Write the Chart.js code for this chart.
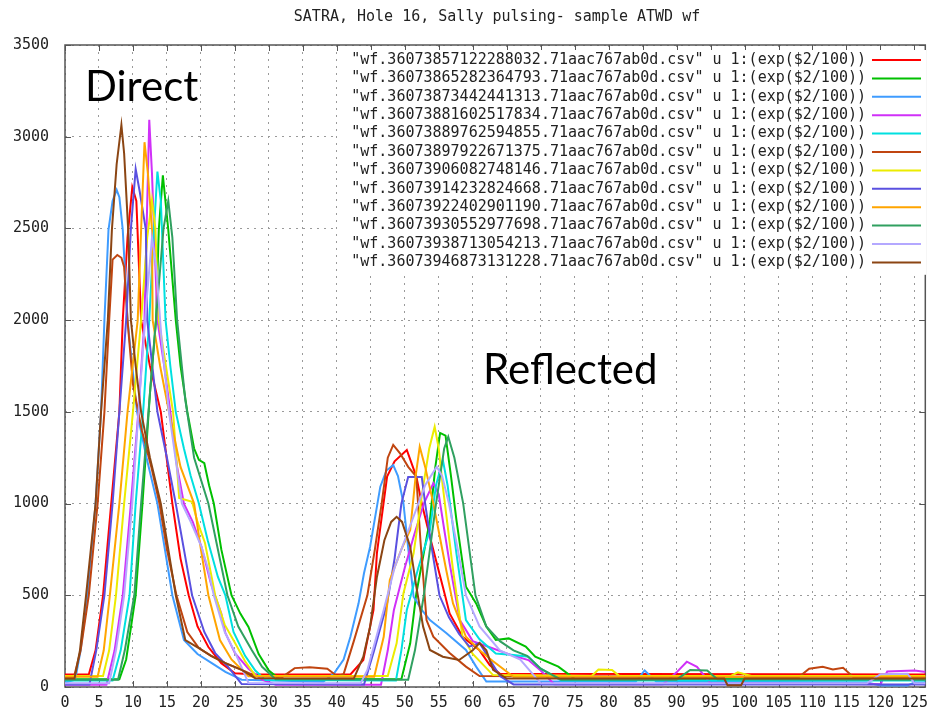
<!DOCTYPE html>
<html>
<head>
<meta charset="utf-8">
<title>SATRA, Hole 16, Sally pulsing- sample ATWD wf</title>
<script src="https://cdn.jsdelivr.net/npm/chart.js@4.4.1/dist/chart.umd.min.js"></script>
<style>
  html, body { margin: 0; padding: 0; background: #fff; }
  canvas { display: block; }
</style>
</head>
<body>
<canvas id="wfChart" width="935" height="715"></canvas>
<script>
// Tick values
const xTicks = [0, 5, 10, 15, 20, 25, 30, 35, 40, 45, 50, 55, 60, 65, 70, 75, 80, 85, 90, 95, 100, 105, 110, 115, 120, 125];
const yTicks = [0, 500, 1000, 1500, 2000, 2500, 3000, 3500];

// File ids used in the key
const fileIds = [
  '36073857122288032', '36073865282364793', '36073873442441313', '36073881602517834',
  '36073889762594855', '36073897922671375', '36073906082748146', '36073914232824668',
  '36073922402901190', '36073930552977698', '36073938713054213', '36073946873131228'
];

const seriesColors = ['#ff0000', '#00c000', '#3f9cff', '#d030f8', '#00e0e0', '#c04510',
  '#ecec00', '#5a50e0', '#ffa500', '#30a060', '#b4a8ff', '#8b4513'];

// Waveforms [sample, exp($2/100)]
const wf1 = [[0,68],[3.5,68],[4.5,200],[5.6,500],[6.8,1000],[8,1500],[8.5,2000],[9.2,2450],[9.9,2725],[10.5,2650],[11.2,2000],[12.5,1750],[14.1,1500],[15.8,1000],[17,700],[18.2,500],[19.5,330],[21.1,218],[23,130],[25,75],[28,68],[42,68],[43.9,147],[45.4,420],[45.9,730],[47.4,1147],[48.5,1230],[50.3,1292],[51.7,1147],[52.5,1000],[53.7,819],[55.6,547],[56.6,401],[58.5,274],[61,200],[62.5,120],[64,72],[127,68]];
const wf2 = [[0,42],[8,42],[9,150],[10.4,500],[11.4,1000],[12.5,1600],[13.4,2000],[13.8,2492],[14.4,2790],[15.2,2492],[16.3,2000],[17,1750],[18,1500],[19,1300],[19.7,1238],[20.5,1220],[21.2,1100],[21.9,1000],[23,750],[24.5,500],[25.8,400],[27,327],[28.5,180],[30,90],[31.5,45],[49.5,42],[50.8,238],[51.7,510],[53.7,911],[54.5,1200],[55.2,1385],[56,1370],[56.8,1150],[57.6,911],[59,547],[60.5,456],[62,330],[63.4,256],[65.3,265],[67.8,220],[69.2,165],[72.6,111],[75,45],[127,42]];
const wf3 = [[0,25],[1.5,40],[2.3,200],[3.3,500],[4.5,1000],[5.3,1500],[5.8,2000],[6.4,2492],[7,2650],[7.6,2710],[8,2670],[8.5,2492],[9.2,2000],[9.9,1750],[10.6,1500],[12,1250],[13.6,1000],[14.7,750],[15.8,500],[17.5,256],[19.5,180],[21.6,130],[23.6,82],[26,40],[38,28],[39.6,75],[41,150],[42,274],[43.2,456],[44,620],[44.9,765],[46.4,1092],[47.3,1180],[48.3,1210],[49,1150],[49.8,1002],[50.5,760],[51.3,492],[52.5,420],[53.7,365],[56.1,294],[59,202],[60.5,111],[62,30],[84,30],[85.3,90],[87,30],[118,25],[120,8],[124,8],[125,25],[127,25]];
const wf4 = [[0,12],[6.1,12],[7.3,200],[8.5,500],[9.7,1000],[10.8,1500],[11.7,2000],[12,2492],[12.4,3092],[12.8,2800],[13.1,2492],[13.6,2000],[14.6,1750],[15.5,1500],[16.5,1200],[17.5,1000],[18.8,900],[20.1,763],[21.5,560],[23,400],[23.6,295],[25,185],[27,100],[29,40],[31,12],[46.5,12],[47.5,200],[48.4,420],[50,650],[51.3,819],[52.8,1000],[54.2,1110],[55,1050],[55.8,860],[56.6,674],[58.1,365],[60,250],[63,210],[66,170],[68.2,147],[70,90],[72,15],[88,15],[90,80],[91.5,138],[93,110],[95,20],[120,15],[121,85],[125,90],[127,80]];
const wf5 = [[0,36],[7,36],[8.2,200],[9.5,500],[10.4,1000],[11.5,1500],[12.4,2000],[13.1,2500],[13.6,2810],[14.1,2650],[14.8,2000],[15.5,1750],[16.3,1500],[17.5,1300],[18.5,1150],[19.7,1000],[21,800],[22.5,600],[23.6,500],[24.8,300],[26.5,170],[28,90],[29.5,38],[48.7,36],[49.5,200],[50.3,420],[52,650],[53.7,856],[54.6,1100],[55.6,1238],[56.3,1100],[57.6,729],[59,365],[61,260],[63.4,183],[66,175],[68.2,165],[70,100],[73,36],[127,36]];
const wf6 = [[0,52],[1.3,52],[2.3,200],[3.5,500],[4.8,1000],[5.8,1500],[6.5,2000],[7,2330],[7.7,2355],[8.3,2340],[8.7,2290],[9.2,2000],[10,1650],[11.3,1400],[12.7,1200],[13.9,1000],[15,750],[16.4,500],[18,300],[19.7,212],[21.5,170],[23.6,130],[26,93],[28,60],[32,55],[33.8,103],[36,108],[38.6,100],[40,60],[41,70],[42.5,250],[44.5,500],[45.6,750],[46.6,1000],[47.5,1250],[48.3,1320],[49.3,1274],[50.5,1200],[51.7,1147],[52.3,800],[53.2,365],[54.2,274],[56.6,185],[59,111],[61,60],[108,55],[109.5,100],[111.5,110],[113,95],[114.5,105],[116,55],[127,52]];
const wf7 = [[0,60],[5.6,60],[6.5,200],[7.5,500],[8.7,1000],[10,1500],[11.2,2000],[12.1,2450],[12.8,2655],[13.3,2500],[13.8,2000],[15.9,1500],[16.8,1030],[18.7,1010],[19.5,900],[20.6,785],[22.1,500],[23.5,340],[24.8,255],[26.5,140],[28,62],[47.5,60],[48.8,238],[49.8,510],[51.3,729],[52.7,1092],[53.6,1300],[54.4,1419],[55,1300],[55.6,1092],[57.1,638],[58.5,274],[60,180],[63,65],[77.5,60],[78.5,95],[80.5,93],[81.5,62],[98,60],[99,80],[101,60],[127,60]];
const wf8 = [[0,14],[3.6,14],[4.6,200],[5.8,500],[7,1000],[8,1500],[9,2000],[9.7,2500],[10.4,2824],[11,2700],[11.9,2492],[12.1,2000],[13.6,1500],[15,1250],[16.3,1000],[17.5,750],[18.7,500],[20.5,300],[22.1,185],[24,110],[26,16],[44,14],[45.5,200],[47.4,456],[48.5,700],[49.5,1000],[50.5,1145],[52.5,1145],[53,1000],[54,750],[55.1,500],[56.5,380],[58,290],[59.5,220],[61,240],[62.5,150],[64,60],[66,14],[127,14]];
const wf9 = [[0,56],[4.8,56],[5.7,200],[6.6,500],[8,1000],[9.2,1500],[10.7,2000],[11.2,2492],[11.7,2970],[12.2,2800],[12.8,2492],[12.9,2000],[14,1750],[15.3,1500],[17,1200],[19,1000],[20,750],[21.1,500],[22.8,256],[24.5,150],[27,58],[45.5,56],[46.9,274],[47.8,583],[49.5,750],[50.8,856],[51.6,1150],[52.2,1310],[53,1200],[54.2,1002],[56.1,638],[57.1,456],[59,274],[61,200],[63,140],[66,56],[127,56]];
const wf10 = [[0,40],[7.8,40],[8.8,200],[10.2,500],[11.2,1000],[12.5,1600],[13.6,2100],[14.5,2500],[15.2,2650],[15.8,2450],[16.5,2000],[17.7,1565],[19,1250],[21.1,1000],[22.5,750],[23.9,500],[25.5,330],[27.5,200],[29,110],[31,42],[50.5,40],[51.5,200],[52.8,500],[54.6,1000],[55.8,1300],[56.4,1364],[57.3,1250],[58.6,1000],[60.4,500],[62,330],[64,250],[66,200],[68,170],[70,100],[73,40],[90,40],[92,93],[94.5,90],[96,42],[127,40]];
const wf11 = [[0,20],[6.5,20],[7.5,200],[8.7,500],[9.9,1000],[11,1600],[12,2100],[12.8,2450],[13.4,2300],[14.2,1900],[15.3,1500],[17.2,1000],[18.5,900],[20.1,763],[21,650],[21.9,500],[23.5,300],[25,190],[27,22],[43.5,20],[44.5,93],[46.9,420],[48.5,650],[50,800],[51.5,950],[53,1100],[54.7,1201],[55.5,1150],[56.5,1000],[57.8,750],[59,500],[61,330],[64,200],[67,150],[70,20],[118,20],[120,70],[124,72],[125,20],[127,20]];
const wf12 = [[0,46],[1.4,46],[2.2,200],[3.1,500],[4.5,1000],[5.3,1500],[6.3,2000],[6.9,2492],[7.6,2850],[8.3,3064],[8.7,2910],[9.3,2492],[9.7,2000],[10.4,1750],[11.2,1500],[12.5,1250],[14.1,1000],[15.2,750],[16.3,500],[17.7,256],[19.7,212],[21.5,170],[23.6,130],[26,93],[28,48],[42.5,46],[43.9,165],[44.9,329],[45.9,600],[47,800],[48,900],[48.8,928],[49.6,900],[50.8,765],[51.7,547],[52.7,329],[53.7,202],[55.6,165],[58,147],[60,200],[61,240],[62,200],[63,93],[65,46],[97,46],[97.5,10],[99.5,10],[100,46],[127,46]];

const waveforms = [wf1, wf2, wf3, wf4, wf5, wf6, wf7, wf8, wf9, wf10, wf11, wf12];
const keyLabels = fileIds.map(id => `"wf.${id}.71aac767ab0d.csv" u 1:(exp($2/100))`);

const monoFont = '15px "DejaVu Sans Mono", "Liberation Mono", monospace';

// gnuplot-style frame, inner ticks, key, title and slide labels
const gnuplotDecor = {
  id: 'gnuplotDecor',
  beforeDatasetsDraw(chart) {
    const { ctx, chartArea: a, scales } = chart;
    ctx.save();
    ctx.strokeStyle = '#555';
    ctx.lineWidth = 1.5;
    ctx.strokeRect(a.left, a.top, a.right - a.left, a.bottom - a.top);
    ctx.lineWidth = 1;
    ctx.beginPath();
    scales.x.ticks.forEach(t => {
      const px = Math.round(scales.x.getPixelForValue(t.value)) + 0.5;
      ctx.moveTo(px, a.bottom); ctx.lineTo(px, a.bottom - 6);
      ctx.moveTo(px, a.top); ctx.lineTo(px, a.top + 6);
    });
    scales.y.ticks.forEach(t => {
      const py = Math.round(scales.y.getPixelForValue(t.value)) + 0.5;
      ctx.moveTo(a.left, py); ctx.lineTo(a.left + 6, py);
      ctx.moveTo(a.right, py); ctx.lineTo(a.right - 6, py);
    });
    ctx.stroke();

    // opaque key
    const rowH = 18.4;
    const keyTop = 50;
    ctx.fillStyle = '#fff';
    ctx.fillRect(338, keyTop, 588, rowH * keyLabels.length + 4);
    ctx.font = monoFont;
    ctx.textAlign = 'right';
    ctx.textBaseline = 'middle';
    keyLabels.forEach((lbl, i) => {
      const y = keyTop + 10 + i * rowH;
      ctx.fillStyle = '#222';
      ctx.fillText(lbl, 866, y);
      ctx.strokeStyle = seriesColors[i];
      ctx.lineWidth = 2;
      ctx.beginPath();
      ctx.moveTo(872, y); ctx.lineTo(921, y);
      ctx.stroke();
    });
    ctx.restore();
  },
  afterDraw(chart) {
    const { ctx } = chart;
    ctx.save();
    ctx.fillStyle = '#222';
    ctx.font = monoFont;
    ctx.textAlign = 'center';
    ctx.textBaseline = 'middle';
    ctx.fillText('SATRA, Hole 16, Sally pulsing- sample ATWD wf', 497, 17);

    ctx.fillStyle = '#000';
    ctx.font = '42px Lato, "Open Sans", sans-serif';
    ctx.textAlign = 'left';
    ctx.textBaseline = 'alphabetic';
    ctx.fillText('Direct', 85, 101);
    ctx.fillText('Reflected', 483, 384);
    ctx.restore();
  }
};

const ctx = document.getElementById('wfChart').getContext('2d');
new Chart(ctx, {
  type: 'line',
  data: {
    datasets: waveforms.map((pts, i) => ({
      label: keyLabels[i],
      data: pts,
      borderColor: seriesColors[i],
      borderWidth: 2,
      pointRadius: 0,
      tension: 0,
      fill: false,
      order: waveforms.length - i,
    })),
  },
  options: {
    responsive: false,
    animation: false,
    devicePixelRatio: 1,
    events: [],
    layout: { padding: { top: 45, right: 2, left: 0, bottom: 0 } },
    plugins: {
      legend: { display: false },
      title: { display: false },
      tooltip: { enabled: false },
    },
    scales: {
      x: {
        type: 'linear',
        min: 0,
        max: 126.6,
        afterBuildTicks: s => { s.ticks = xTicks.map(v => ({ value: v })); },
        afterFit: s => { s.height = 28; },
        grid: { color: '#9a9a9a', lineWidth: 1, drawTicks: false },
        border: { display: false, dash: [2, 5] },
        ticks: { autoSkip: false, maxRotation: 0, padding: 7, color: '#222', font: { family: '"DejaVu Sans Mono"', size: 15 }, callback: v => String(v) },
      },
      y: {
        min: 0,
        max: 3500,
        afterBuildTicks: s => { s.ticks = yTicks.map(v => ({ value: v })); },
        afterFit: s => { s.width = 65; },
        grid: { color: '#9a9a9a', lineWidth: 1, drawTicks: false },
        border: { display: false, dash: [2, 5] },
        ticks: { padding: 16, color: '#222', font: { family: '"DejaVu Sans Mono"', size: 15 }, callback: v => String(v) },
      },
    },
  },
  plugins: [gnuplotDecor],
});
</script>
</body>
</html>
